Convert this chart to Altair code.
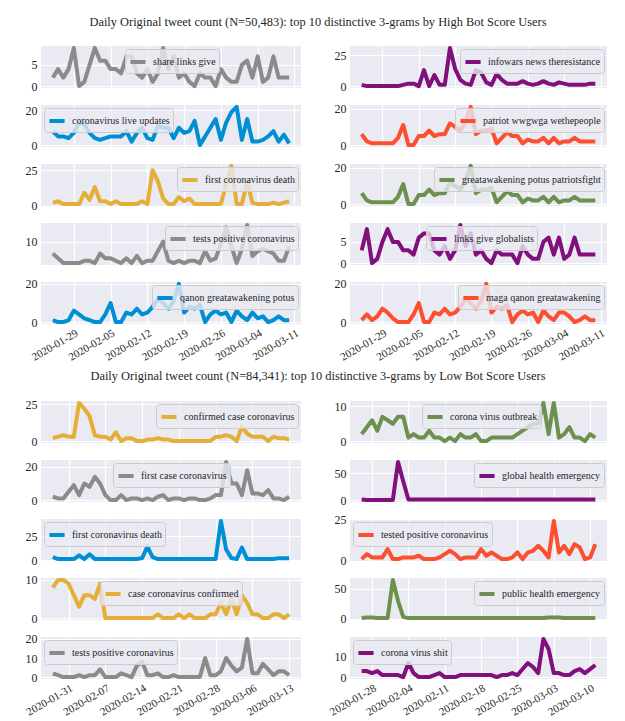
import altair as alt
import pandas as pd

FONT = "Liberation Serif"
TEXT = "#262626"
BG = "#EAEAF2"

GRAY = "#8b8b8b"
PURPLE = "#810f7c"
BLUE = "#008fd5"
RED = "#fc4f30"
GOLD = "#e5ae38"
GREEN = "#6d904f"

TOP_TITLE = "Daily Original tweet count (N=50,483): top 10 distinctive 3-grams by High Bot Score Users"
BOTTOM_TITLE = "Daily Original tweet count (N=84,341): top 10 distinctive 3-grams by Low Bot Score Users"

TOP_START = "2020-01-25"
BOTTOM_LEFT_START = "2020-01-28"
BOTTOM_RIGHT_START = "2020-01-26"

TOP_TICKS = ["2020-01-29", "2020-02-05", "2020-02-12", "2020-02-19", "2020-02-26", "2020-03-04", "2020-03-11"]
BL_TICKS = ["2020-01-31", "2020-02-07", "2020-02-14", "2020-02-21", "2020-02-28", "2020-03-06", "2020-03-13"]
BR_TICKS = ["2020-01-28", "2020-02-04", "2020-02-11", "2020-02-18", "2020-02-25", "2020-03-03", "2020-03-10"]

# ---- High bot score users ----
share_links_give = [2, 4, 2, 4, 9, 0, 1, 5, 9, 6, 6, 4, 4, 3, 7, 7, 3, 2, 4, 1, 3, 9, 4, 7, 2, 3, 1, 0, 3, 2,
                    2, 0, 4, 2, 1, 1, 5, 6, 2, 7, 1, 2, 7, 2, 2, 2]
infowars = [1, 0, 0, 0, 0, 0, 0, 0, 1, 2, 2, 0, 13, 0, 9, 1, 1, 31, 14, 5, 2, 1, 13, 11, 3, 1, 10, 5, 2, 2,
            2, 4, 2, 1, 2, 4, 2, 1, 3, 2, 1, 1, 1, 1, 2, 2]
live_updates = [8, 5, 5, 4, 7, 13, 12, 7, 4, 3, 4, 5, 5, 5, 8, 2, 7, 10, 4, 3, 11, 10, 10, 4, 10, 7, 8, 14, 0, 5,
                10, 15, 3, 13, 19, 22, 3, 15, 2, 2, 3, 5, 8, 2, 6, 1]
patriot = [6, 2, 1, 1, 1, 1, 1, 4, 11, 0, 0, 5, 5, 8, 5, 6, 6, 12, 10, 8, 13, 21, 6, 8, 8, 9, 1, 4, 7, 5,
           5, 1, 3, 2, 2, 4, 1, 4, 1, 2, 2, 4, 2, 2, 2, 2]
first_death_top = [2, 3, 1, 1, 1, 1, 9, 4, 13, 3, 3, 1, 3, 1, 1, 1, 1, 3, 1, 25, 17, 5, 1, 1, 6, 3, 5, 1, 1, 1,
                   1, 1, 1, 15, 28, 1, 1, 17, 2, 1, 1, 1, 2, 1, 2, 3]
greatawakening = [6, 2, 1, 1, 1, 1, 1, 4, 11, 0, 0, 5, 5, 8, 5, 6, 6, 12, 10, 8, 13, 21, 6, 8, 8, 9, 1, 4, 7, 5,
                  5, 1, 3, 2, 2, 4, 1, 4, 1, 2, 2, 4, 2, 2, 2, 2]
tests_positive_top = [5, 3, 1, 1, 1, 1, 2, 2, 1, 5, 3, 3, 2, 1, 3, 1, 4, 1, 2, 2, 6, 10, 2, 1, 2, 1, 2, 2, 1, 6,
                      2, 3, 9, 16, 8, 1, 7, 17, 4, 6, 7, 6, 5, 2, 2, 8]
links_give_globalists = [3, 8, 0, 1, 5, 8, 5, 5, 3, 3, 2, 6, 7, 7, 3, 2, 4, 1, 3, 9, 4, 7, 2, 3, 1, 0, 3, 2, 2, 2,
                         0, 4, 2, 1, 1, 5, 6, 2, 6, 1, 2, 6, 2, 2, 2, 2]
qanon = [1, 0, 0, 1, 6, 4, 2, 1, 0, 0, 4, 10, 0, 0, 5, 4, 7, 4, 5, 8, 12, 10, 7, 11, 20, 5, 8, 7, 9, 0,
         4, 6, 4, 5, 0, 6, 3, 1, 5, 2, 3, 0, 1, 3, 1, 1]
maga = [1, 4, 1, 3, 7, 5, 2, 0, 0, 0, 4, 10, 0, 0, 5, 4, 7, 4, 5, 8, 12, 10, 7, 11, 20, 5, 8, 7, 9, 0,
        4, 6, 4, 5, 0, 6, 3, 1, 5, 5, 3, 0, 1, 3, 1, 1]

# ---- Low bot score users ----
confirmed_case = [2, 3, 4, 3, 3, 26, 22, 17, 4, 3, 3, 1, 6, 0, 2, 2, 0, 0, 1, 1, 2, 1, 1, 0, 0, 0, 0, 0, 0, 0,
                  0, 3, 3, 4, 3, 0, 10, 5, 3, 3, 3, 0, 3, 2, 2, 1]
corona_outbreak = [2, 4, 6, 3, 7, 6, 5, 7, 7, 1, 2, 1, 1, 3, 1, 1, 0, 1, 0, 2, 1, 1, 2, 0, 0, 1, 1, 1, 1, 1,
                   2, 3, 4, 5, 5, 11, 2, 11, 1, 2, 4, 1, 1, 0, 2, 1]
first_case = [2, 1, 1, 5, 9, 3, 10, 8, 14, 10, 3, 0, 0, 3, 0, 1, 1, 0, 1, 0, 2, 3, 0, 1, 1, 0, 1, 1, 0, 0,
              1, 3, 3, 23, 10, 10, 3, 18, 4, 4, 3, 6, 1, 1, 0, 2]
global_health = [1, 0, 0, 0, 0, 0, 0, 71, 35, 1, 1, 1, 1, 1, 1, 1, 1, 1, 1, 1, 1, 1, 1, 1, 1, 1, 1, 1, 1, 1,
                 1, 1, 1, 1, 1, 1, 1, 1, 1, 1, 1, 1, 1, 1, 1, 1]
first_death_bottom = [3, 1, 1, 1, 1, 5, 1, 6, 1, 1, 1, 1, 1, 1, 1, 1, 1, 2, 14, 3, 1, 1, 1, 1, 1, 1, 1, 1, 1, 1,
                      1, 1, 41, 11, 2, 1, 13, 1, 1, 1, 1, 1, 1, 2, 2, 2]
tested_positive = [1, 4, 2, 2, 2, 7, 1, 1, 2, 2, 2, 3, 1, 1, 1, 2, 4, 6, 4, 1, 2, 2, 2, 7, 3, 5, 3, 1, 1, 2,
                   5, 1, 5, 6, 9, 6, 2, 24, 5, 9, 4, 10, 8, 1, 2, 10]
case_confirmed = [8, 10, 10, 9, 6, 3, 6, 6, 5, 9, 0, 0, 0, 0, 0, 0, 0, 0, 0, 0, 1, 0, 0, 0, 1, 0, 1, 0, 0, 0,
                  1, 1, 4, 1, 5, 1, 6, 4, 1, 1, 0, 0, 1, 1, 0, 1]
public_health = [1, 2, 2, 1, 1, 1, 65, 30, 3, 1, 1, 1, 1, 1, 1, 1, 1, 1, 1, 1, 1, 1, 1, 1, 1, 1, 1, 1, 1, 1,
                 1, 1, 1, 1, 1, 1, 2, 2, 2, 1, 1, 1, 1, 1, 1, 1]
tests_positive_bottom = [2, 1, 0, 0, 0, 1, 0, 1, 1, 4, 0, 0, 0, 2, 1, 0, 6, 8, 1, 1, 2, 0, 0, 1, 0, 0, 0, 0, 0, 10,
                         1, 1, 3, 10, 6, 3, 5, 20, 2, 2, 7, 4, 1, 3, 3, 1]
corona_virus_shit = [3, 3, 2, 3, 1, 1, 1, 1, 0, 7, 2, 0, 0, 0, 1, 2, 0, 0, 0, 1, 1, 1, 1, 1, 1, 1, 0, 1, 1, 2,
                     1, 4, 7, 5, 2, 19, 14, 2, 2, 1, 1, 3, 4, 2, 4, 6]

# (label, colour, values, y ticks, legend placement)
TOP_ROWS = [
    (("share links give", GRAY, share_links_give, [0, 5], ("x", 84)),
     ("infowars news theresistance", PURPLE, infowars, [0, 25], ("tr",))),
    (("coronavirus live updates", BLUE, live_updates, [0, 20], ("tl",)),
     ("patriot wwgwga wethepeople", RED, patriot, [0, 20], ("tr",))),
    (("first coronavirus death", GOLD, first_death_top, [0, 25], ("tr",)),
     ("greatawakening potus patriotsfight", GREEN, greatawakening, [0, 20], ("tr",))),
    (("tests positive coronavirus", GRAY, tests_positive_top, [0, 10], ("tr",)),
     ("links give globalists", PURPLE, links_give_globalists, [0, 5], ("x", 76))),
    (("qanon greatawakening potus", BLUE, qanon, [0, 20], ("tr",)),
     ("maga qanon greatawakening", RED, maga, [0, 20], ("tr",))),
]
BOTTOM_ROWS = [
    (("confirmed case coronavirus", GOLD, confirmed_case, [0, 25], ("tr",)),
     ("corona virus outbreak", GREEN, corona_outbreak, [0, 10], ("x", 72))),
    (("first case coronavirus", GRAY, first_case, [0, 20], ("x", 72)),
     ("global health emergency", PURPLE, global_health, [0, 50], ("tr",))),
    (("first coronavirus death", BLUE, first_death_bottom, [0, 25], ("tl",)),
     ("tested positive coronavirus", RED, tested_positive, [0, 25], ("tl",))),
    (("case coronavirus confirmed", GOLD, case_confirmed, [0, 10], ("x", 59)),
     ("public health emergency", GREEN, public_health, [0, 50], ("tr",))),
    (("tests positive coronavirus", GRAY, tests_positive_bottom, [0, 10, 20], ("tl",)),
     ("corona virus shit", PURPLE, corona_virus_shit, [0, 10], ("tl",))),
]

PANEL_H = 42
LEFT_W = 260
RIGHT_W = 257


def to_dt(ts):
    ts = pd.Timestamp(ts)
    return alt.DateTime(year=ts.year, month=ts.month, date=ts.day, hours=ts.hour, minutes=ts.minute)


def panel(spec, start, ticks, width, bottom):
    label, color, values, yticks, place = spec
    dates = pd.date_range(start, periods=len(values), freq="D")
    df = pd.DataFrame({"date": dates.strftime("%Y-%m-%dT%H:%M:%S"), "count": values, "gram": label})
    pad = pd.Timedelta(hours=24 * (len(values) - 1) * 0.05)
    x_dom = [to_dt(dates[0] - pad), to_dt(dates[-1] + pad)]
    vmax, vmin = max(values), min(values)
    span = vmax - vmin
    y_dom = [vmin - 0.05 * span, vmax + 0.05 * span]

    if place[0] == "tr":
        leg = alt.Legend(title=None, orient="top-right", zindex=1)
    elif place[0] == "tl":
        leg = alt.Legend(title=None, orient="top-left", zindex=1)
    else:
        leg = alt.Legend(title=None, orient="none", legendX=place[1], legendY=3, zindex=1)

    x_axis = alt.Axis(values=[to_dt(t) for t in ticks], format="%Y-%m-%d", labels=bottom,
                      labelAngle=330, labelAlign="right", labelBaseline="top", labelPadding=3,
                      labelOverlap=False, labelFontSize=11,
                      title=None, grid=True, ticks=False, domain=False)
    y_axis = alt.Axis(values=yticks, title=None, grid=True, ticks=False, domain=False,
                      labelPadding=4)
    return alt.Chart(df).mark_line(strokeWidth=4, strokeJoin="round").encode(
        x=alt.X("date:T", scale=alt.Scale(domain=x_dom), axis=x_axis),
        y=alt.Y("count:Q", scale=alt.Scale(domain=y_dom, nice=False, zero=False), axis=y_axis),
        color=alt.Color("gram:N", scale=alt.Scale(domain=[label], range=[color]), legend=leg),
    ).properties(width=width, height=PANEL_H)


def block(title, rows, lstart, lticks, rstart, rticks, offset):
    charts = []
    n = len(rows)
    for i, (left, right) in enumerate(rows):
        charts.append(panel(left, lstart, lticks, LEFT_W, i == n - 1))
        charts.append(panel(right, rstart, rticks, RIGHT_W, i == n - 1))
    return alt.concat(
        *charts, columns=2, spacing={"row": 17, "column": 49}, bounds="flush",
        title=alt.TitleParams(title, font=FONT, fontSize=12.4, fontWeight="normal", color=TEXT,
                              anchor="middle", offset=offset, dx=3),
    ).resolve_scale(color="independent").resolve_legend(color="independent")


top = block(TOP_TITLE, TOP_ROWS, TOP_START, TOP_TICKS, TOP_START, TOP_TICKS, 18)
bottom = block(BOTTOM_TITLE, BOTTOM_ROWS, BOTTOM_LEFT_START, BL_TICKS, BOTTOM_RIGHT_START, BR_TICKS, 16)

chart = alt.vconcat(top, bottom, spacing=6).resolve_scale(color="independent").resolve_legend(
    color="independent"
).properties(
    padding={"left": 15, "top": 7, "right": 5, "bottom": 2}
).configure_view(
    fill=BG, strokeWidth=0
).configure_axis(
    gridColor="white", gridWidth=1.2, labelFont=FONT, labelFontSize=12, labelColor=TEXT
).configure_axisY(
    minExtent=18, maxExtent=18
).configure_legend(
    fillColor="rgba(234,234,242,0.8)", strokeColor="#cccccc", cornerRadius=3, padding=3,
    symbolType="stroke", symbolStrokeWidth=4, symbolSize=230, labelFont=FONT, labelFontSize=10,
    labelColor=TEXT, offset=3, labelOffset=5
).configure_title(
    font=FONT, fontSize=12.4, color=TEXT
)

chart.save("out.html", embed_options={"renderer": "svg", "actions": False})
